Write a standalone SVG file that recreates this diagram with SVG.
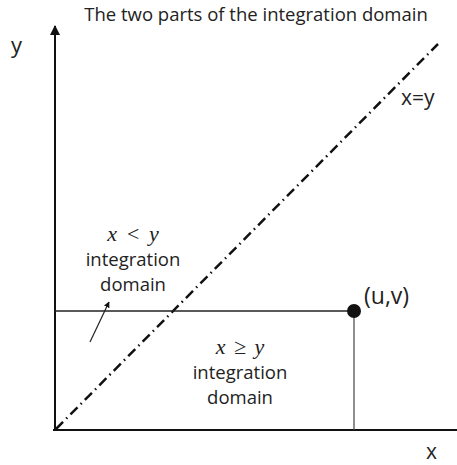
<svg xmlns="http://www.w3.org/2000/svg" width="457" height="465" viewBox="0 0 457 465">
  <style>
    .lbl { font-family: "Open Sans", "Liberation Sans", sans-serif; fill: #222; }
    .math { font-family: "Liberation Serif", "DejaVu Serif", serif; font-style: italic; fill: #222; word-spacing: 3px; }
    .axis { stroke: #111; stroke-width: 2; fill: none; }
  </style>
  <defs>
    <marker id="arrow" viewBox="0 0 10 10" refX="9" refY="5" markerWidth="5" markerHeight="5" orient="auto">
      <path d="M0,0 L10,5 L0,10 z" fill="#111"/>
    </marker>
  </defs>

  <text class="lbl" x="256" y="21" font-size="18.5" text-anchor="middle">The two parts of the integration domain</text>

  <g id="connectors">
    <line class="axis" x1="55" y1="431" x2="55" y2="26" marker-end="url(#arrow)"/>
    <line class="axis" x1="53" y1="430" x2="462" y2="430"/>
    <line x1="56" y1="429" x2="438" y2="44" stroke="#111" stroke-width="2.5" stroke-dasharray="10 4.5 1.5 4.5"/>
    <line x1="55" y1="311" x2="354" y2="311" stroke="#222" stroke-width="1.5"/>
    <line x1="354" y1="311" x2="354" y2="430" stroke="#444" stroke-width="1.2"/>
    <line x1="90" y1="342" x2="109" y2="302" stroke="#222" stroke-width="1.2" marker-end="url(#arrow)"/>
  </g>

  <g id="axis-y"><text class="lbl" x="11" y="53" font-size="22">y</text></g>
  <g id="axis-x"><text class="lbl" x="426" y="459" font-size="21">x</text></g>
  <g id="diagonal-label"><text class="lbl" x="401" y="105" font-size="21">x=y</text></g>

  <g id="point-uv">
    <circle cx="354" cy="311" r="7" fill="#111"/>
    <text class="lbl" x="364" y="304" font-size="23">(u,v)</text>
  </g>

  <g id="region-upper">
    <text class="math" x="133" y="241" font-size="22" text-anchor="middle">x &lt; y</text>
    <text class="lbl" x="133" y="266" font-size="18.5" text-anchor="middle">integration</text>
    <text class="lbl" x="133" y="291" font-size="18.5" text-anchor="middle">domain</text>
  </g>

  <g id="region-lower">
    <text class="math" x="240" y="354" font-size="22" text-anchor="middle">x ≥ y</text>
    <text class="lbl" x="240" y="379" font-size="18.5" text-anchor="middle">integration</text>
    <text class="lbl" x="240" y="404" font-size="18.5" text-anchor="middle">domain</text>
  </g>
</svg>
